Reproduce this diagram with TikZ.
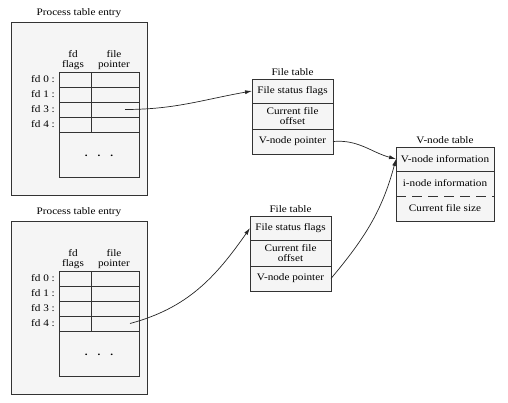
\documentclass[tikz,border=0pt]{standalone}
\usepackage{fontspec}
\setmainfont{Liberation Serif}[FakeStretch=1.12]
\usetikzlibrary{positioning,arrows.meta}

\begin{document}
\begin{tikzpicture}[x=1pt, y=-1pt, font=\fontsize{10}{10}\selectfont,
		cell/.style={draw=black!80, line width=0.8pt, fill=gray!8, rectangle, inner sep=0pt, outer sep=0pt, align=center},
		vcell/.style={fill=gray!8, rectangle, inner sep=0pt, outer sep=0pt, minimum width=98pt},
		frame/.style={draw=black!80, line width=0.8pt},
		title/.style={inner sep=1pt, align=center},
		ptr/.style={-{Latex[length=7pt,width=4pt]}, line width=0.7pt, black!85}]
				\useasboundingbox (0,0) rectangle (508,403);
				
				% Process table entries (Left)
				\foreach \p/\dy in {a/0, b/199} {
					\begin{scope}[yshift=-\dy pt]
						\node (\p-proc) [cell, minimum width=136pt, minimum height=173pt] at (79,108.5) {};
						\node [title, above=3pt of \p-proc] {Process table entry};
						\foreach \r [count=\i from 0] in {0,1,3,4} {
							\node (\p-fl\r) [cell, minimum width=32pt, minimum height=15pt] at (75,{79.5+15*\i}) {};
							\node (\p-fp\r) [cell, minimum width=48pt, minimum height=15pt, right=0pt of \p-fl\r] {};
							\node [title, left=3pt of \p-fl\r] {fd \r\ :};
						}
						\node (\p-rest) [cell, minimum width=80pt, minimum height=45pt, below right=0pt of \p-fl4.south west] {\raisebox{-4pt}{\textbf{.}\hspace{10pt}\textbf{.}\hspace{10pt}\textbf{.}}};
						\node [title, above=1pt of \p-fl0, xshift=-2pt] {fd\\flags};
						\node [title, above=1pt of \p-fp0, xshift=-1pt] {file\\pointer};
					\end{scope}
				}
				
				% File tables (Middle)
				\foreach \f/\xx/\yy in {1/252/79, 2/250/216} {
					\node (ft\f-flags) [cell, minimum width=81pt, minimum height=24pt, anchor=north west] at (\xx,\yy) {File status flags};
					\node (ft\f-off) [cell, minimum width=81pt, minimum height=26pt, below=0pt of ft\f-flags] {Current file\\offset};
					\node (ft\f-vp) [cell, minimum width=81pt, minimum height=25pt, below=0pt of ft\f-off] {V-node pointer};
					\node [title, above=2pt of ft\f-flags] {File table};
				}
				
				% V-node table (Right)
				\node (vn-info) [vcell, minimum height=24pt, anchor=north west] at (396,147) {V-node information};
				\node (vn-inode) [vcell, minimum height=25pt, below=0pt of vn-info] {i-node information};
				\node (vn-size) [vcell, minimum height=25pt, below=0pt of vn-inode] {Current file size};
				\node [title, above=2pt of vn-info] {V-node table};
				\draw[frame] (vn-info.north west) rectangle (vn-size.south east);
				\draw[frame] (vn-info.south west) -- (vn-info.south east);
				\draw[frame, dash pattern=on 10pt off 6pt] (vn-inode.south west) -- (vn-inode.south east);
				
				\draw[ptr] ([xshift=10pt]a-fp3.center) to[out=0, in=190] (ft1-flags.west);
				\draw[ptr] ([xshift=15pt]b-fp4.center) to[out=15, in=235] (ft2-flags.west);
				\draw[ptr] (ft1-vp.east) to[out=5, in=165] (vn-info.west);
				\draw[ptr] (ft2-vp.east) to[out=50, in=255] (vn-info.west);
			\end{tikzpicture}
\end{document}
